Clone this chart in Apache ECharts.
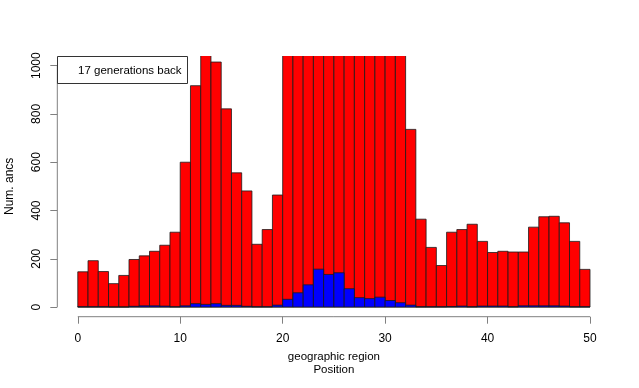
<!DOCTYPE html>
<html>
<head>
<meta charset="utf-8">
<script src="https://cdn.jsdelivr.net/npm/echarts@6/dist/echarts.min.js"></script>
<style>
html,body{margin:0;padding:0;background:#fff;}
#chart{width:639px;height:388px;}
</style>
</head>
<body>
<div id="chart"></div>
<script>
// Bin start positions (each bin is one unit wide)
const positions = [0,1,2,3,4,5,6,7,8,9,10,11,12,13,14,15,16,17,18,19,20,21,22,23,24,
                   25,26,27,28,29,30,31,32,33,34,35,36,37,38,39,40,41,42,43,44,45,46,47,48,49];
// Total ancestors per region (red); bins above the plot top are clipped in the reference
const totalAncs = [146,192,147,97,131,197,212,231,256,310,600,917,1090,1015,821,556,481,260,321,464,
                   1180,1300,1420,1500,1550,1530,1470,1400,1350,1280,1200,1120,736,364,247,172,310,321,343,272,
                   226,231,228,228,331,374,376,349,272,156];
// Subset of ancestors (blue)
const subsetAncs = [1,1,1,0,0,3,5,5,4,1,5,14,11,14,7,7,3,1,1,8,
                    32,59,92,157,135,142,76,39,35,41,27,18,8,1,1,1,2,4,1,4,
                    4,4,1,5,5,5,5,4,1,1];
const xTicks = [0,10,20,30,40,50];
const yTicks = [0,200,400,600,800,1000];
const binWidth = 1;
const legendText = '17 generations back';

const FONT = 'Liberation Sans, Arial, Helvetica, sans-serif';
const AXIS_GRAY = '#808080';

function barRenderer(color) {
  return function (params, api) {
    const x0 = api.value(0), v = api.value(1);
    const p0 = api.coord([x0, 0]);
    const p1 = api.coord([x0 + binWidth, v]);
    return {
      type: 'rect',
      shape: { x: p0[0], y: p1[1], width: p1[0] - p0[0], height: p0[1] - p1[1] },
      style: { fill: color, stroke: '#1a1a1a', lineWidth: 0.8 }
    };
  };
}

const chart = echarts.init(document.getElementById('chart'), null, { renderer: 'canvas' });
chart.setOption({
  animation: false,
  backgroundColor: '#ffffff',
  textStyle: { fontFamily: FONT },
  title: {
    text: legendText,
    left: 57, top: 56,
    borderWidth: 1, borderColor: '#333',
    padding: [8, 6, 6, 21],
    textStyle: { fontSize: 11.5, fontWeight: 'normal', color: '#000', fontFamily: FONT, lineHeight: 14 }
  },
  grid: { left: 57.3, right: 28.5, top: 56, bottom: 71.3, containLabel: false, outerBoundsMode: 'none' },
  xAxis: {
    type: 'value', min: -2, max: 52,
    axisLine: { show: false, onZero: false },
    splitLine: { show: false },
    axisTick: { show: true, length: 7, lineStyle: { color: AXIS_GRAY, width: 1 }, customValues: xTicks },
    axisLabel: { customValues: xTicks, fontSize: 12, color: '#000', margin: 16, fontFamily: FONT },
    name: 'geographic region\nPosition',
    nameLocation: 'middle',
    nameGap: 20,
    nameTextStyle: { fontSize: 11.5, color: '#000', lineHeight: 13.5, fontFamily: FONT, verticalAlign: 'top' }
  },
  yAxis: {
    type: 'value', min: -40, max: 1040,
    axisLine: { show: false, onZero: false },
    splitLine: { show: false },
    axisTick: { show: true, length: 7, lineStyle: { color: AXIS_GRAY, width: 1 }, customValues: yTicks },
    axisLabel: { customValues: yTicks, rotate: 90, fontSize: 12, color: '#000', margin: 15, fontFamily: FONT,
                 formatter: function (v) { return String(v); } },
    name: 'Num. ancs',
    nameLocation: 'middle',
    nameGap: 42,
    nameTextStyle: { fontSize: 12, color: '#000', fontFamily: FONT }
  },
  series: [
    {
      type: 'custom', name: 'total', clip: true,
      renderItem: barRenderer('#ff0000'),
      encode: { x: 0, y: 1 },
      data: positions.map((p, i) => [p, totalAncs[i]]),
      z: 2
    },
    {
      type: 'custom', name: 'subset', clip: true,
      renderItem: barRenderer('#0000ff'),
      encode: { x: 0, y: 1 },
      data: positions.map((p, i) => [p, subsetAncs[i]]),
      z: 3
    },
    {
      type: 'custom', name: 'axes', clip: false, silent: true,
      renderItem: function (params, api) {
        const xa = api.coord([xTicks[0], -40]);
        const xb = api.coord([xTicks[xTicks.length - 1], -40]);
        const ya = api.coord([-2, yTicks[0]]);
        const yb = api.coord([-2, yTicks[yTicks.length - 1]]);
        return {
          type: 'group',
          children: [
            { type: 'line', shape: { x1: xa[0], y1: xa[1], x2: xb[0], y2: xb[1] }, style: { stroke: AXIS_GRAY, lineWidth: 1 } },
            { type: 'line', shape: { x1: ya[0], y1: ya[1], x2: yb[0], y2: yb[1] }, style: { stroke: AXIS_GRAY, lineWidth: 1 } }
          ]
        };
      },
      data: [[0, 0]],
      z: 4
    }
  ]
});
</script>
</body>
</html>
